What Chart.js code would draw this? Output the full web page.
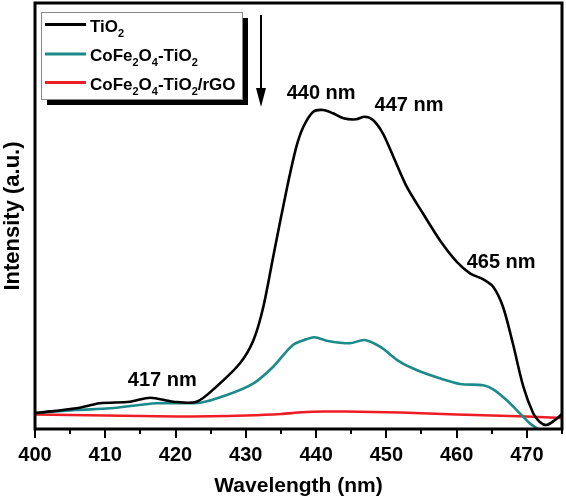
<!DOCTYPE html>
<html>
<head>
<meta charset="utf-8">
<script src="https://cdn.jsdelivr.net/npm/chart.js@4"></script>
<style>
html,body{margin:0;padding:0;background:#fff;}
#wrap{width:566px;height:499px;position:relative;}
</style>
</head>
<body>
<div id="wrap"><canvas id="c" width="566" height="499"></canvas></div>
<script>
// ---- data ----
const tio2Wavelength = [400,400.7,405.9,409.2,413.5,416.4,419.7,423,425.8,429.2,431.1,432.5,433.9,435.8,437.2,438.2,439.6,441,442.4,443.9,445.7,446.9,448.1,449.5,451,452.9,455.2,457.6,460,461.9,463.8,465.2,466.6,468,469.5,470.9,471.8,472.8,474,475];
const tio2Intensity  = [16,16.5,20.7,25.7,27.3,31.3,27.3,27.3,42.3,66,89,122.3,172.3,239,282.3,302.3,317.3,319,315.7,310.7,309.7,312.3,309,295.7,272.3,242.3,215.7,189,167.3,155.7,149.7,142.3,122.3,85.7,42.3,15.7,7.3,4,9,15];

const cfoTio2Wavelength = [400,405.9,410.7,417.3,423.5,427.3,431.1,433.9,436.7,438.6,439.8,441.5,444.8,446.9,449.1,451.9,454.3,457.6,460.5,463.8,465.2,467.1,469,470.4,471.8,472.6];
const cfoTio2Intensity  = [16,19,20.7,25.7,26.3,34,45.7,62.3,84,89.7,91.7,88.3,85.7,89,82.3,67.3,59,50.7,45,43.7,39.7,29,15.7,5.7,-1,-5];

const cfoTio2RgoWavelength = [400,405,410,415,420,425,430,435,438,441,444,448,452,456,460,465,470,475];
const cfoTio2RgoIntensity  = [14.5,14,13.5,13,12.5,12.7,13.5,15,16.7,17.5,17.5,17,16.5,15.5,14.5,13.5,12.5,11];

const xTickValues = [400,410,420,430,440,450,460,470];
const peakLabels = [
  {text:'440 nm', wl:441, val:319},
  {text:'447 nm', wl:448.1, val:312},
  {text:'465 nm', wl:465.2, val:150},
  {text:'417 nm', wl:416.4, val:31}
];
const seriesNames = [
  [['TiO',0],['2',1]],
  [['CoFe',0],['2',1],['O',0],['4',1],['-TiO',0],['2',1]],
  [['CoFe',0],['2',1],['O',0],['4',1],['-TiO',0],['2',1],['/rGO',0]]
];
const seriesColors = ['#000000','#1a8a8a','#ee1c24'];

const toPts = (xs, ys) => xs.map((x,i)=>({x:x, y:ys[i]}));

const FONT = '"Liberation Sans", Arial, sans-serif';

const decor = {
  id:'decor',
  afterDraw(chart){
    const ctx = chart.ctx, a = chart.chartArea;
    const xs = chart.scales.x, ys = chart.scales.y;
    ctx.save();
    // frame
    ctx.strokeStyle = '#000';
    ctx.lineWidth = 3;
    ctx.strokeRect(a.left, a.top, a.right - a.left, a.bottom - a.top);
    // ticks on x (outside)
    ctx.lineWidth = 2;
    for (let v = 400; v <= 475; v += 5) {
      const px = Math.round(xs.getPixelForValue(v));
      const len = (v % 10 === 0) ? 9 : 5;
      ctx.beginPath(); ctx.moveTo(px, a.bottom); ctx.lineTo(px, a.bottom + len); ctx.stroke();
    }
    // legend box with shadow
    const lx = 41, ly = 12, lw = 201, lh = 87;
    ctx.fillStyle = '#000';
    ctx.fillRect(lx + 6, ly + 6, lw, lh);
    ctx.fillStyle = '#fff';
    ctx.fillRect(lx, ly, lw, lh);
    ctx.strokeStyle = '#888';
    ctx.lineWidth = 1;
    ctx.strokeRect(lx + 0.5, ly + 0.5, lw, lh);
    const rows = [24.5, 54, 82.5];
    rows.forEach((ry, i) => {
      ctx.strokeStyle = seriesColors[i];
      ctx.lineWidth = 3;
      ctx.beginPath(); ctx.moveTo(45, ry); ctx.lineTo(86, ry); ctx.stroke();
      let tx = 90;
      ctx.fillStyle = '#000';
      ctx.textBaseline = 'alphabetic';
      ctx.textAlign = 'left';
      seriesNames[i].forEach(([t, sub]) => {
        if (sub) {
          ctx.font = 'bold 11px ' + FONT;
          ctx.fillText(t, tx, ry + 12);
        } else {
          ctx.font = 'bold 17px ' + FONT;
          ctx.fillText(t, tx, ry + 7);
        }
        tx += ctx.measureText(t).width;
      });
    });
    // arrow
    ctx.strokeStyle = '#000';
    ctx.fillStyle = '#000';
    ctx.lineWidth = 2;
    ctx.beginPath(); ctx.moveTo(261, 15); ctx.lineTo(261, 92); ctx.stroke();
    ctx.beginPath(); ctx.moveTo(256, 88); ctx.lineTo(266, 88); ctx.lineTo(261, 107); ctx.closePath(); ctx.fill();
    // peak labels
    ctx.font = 'bold 20px ' + FONT;
    ctx.textBaseline = 'middle';
    ctx.textAlign = 'center';
    const offs = [[-2,-17],[36,-12],[8,-17],[12,-18]];
    peakLabels.forEach((p, i) => {
      const px = xs.getPixelForValue(p.wl) + offs[i][0];
      const py = ys.getPixelForValue(p.val) + offs[i][1];
      ctx.fillText(p.text, px, py);
    });
    ctx.restore();
  }
};

new Chart(document.getElementById('c'), {
  type: 'line',
  data: {
    datasets: [
      {label:'TiO2', data: toPts(tio2Wavelength, tio2Intensity), borderColor: seriesColors[0], borderWidth: 2.6, pointRadius: 0, tension: 0.3, fill:false},
      {label:'CoFe2O4-TiO2', data: toPts(cfoTio2Wavelength, cfoTio2Intensity), borderColor: seriesColors[1], borderWidth: 2.6, pointRadius: 0, tension: 0.3, fill:false},
      {label:'CoFe2O4-TiO2/rGO', data: toPts(cfoTio2RgoWavelength, cfoTio2RgoIntensity), borderColor: seriesColors[2], borderWidth: 2.6, pointRadius: 0, tension: 0.3, fill:false}
    ]
  },
  options: {
    responsive: false,
    animation: false,
    devicePixelRatio: 1,
    layout: {padding: {top: 3, right: 4, left: 0, bottom: 0}},
    plugins: {legend: {display: false}, tooltip: {enabled: false}},
    scales: {
      x: {
        type: 'linear', min: 400, max: 475,
        grid: {display: false, drawTicks: false},
        border: {display: false},
        afterBuildTicks: (s) => { s.ticks = xTickValues.map(v => ({value: v})); },
        ticks: {color:'#000', font: {family: FONT, size: 20, weight: 'bold'}, padding: 14, maxRotation: 0, autoSkip: false,
          callback: (v) => String(v)},
        title: {display: true, text: 'Wavelength (nm)', color:'#000', font: {family: FONT, size: 21, weight: 'bold'}, padding: {top: 8, bottom: 0}},
        afterFit: (s) => { s.height = 70; }
      },
      y: {
        min: 0, max: 426,
        grid: {display: false, drawTicks: false},
        border: {display: false},
        ticks: {display: false},
        title: {display: true, text: 'Intensity (a.u.)', color:'#000', font: {family: FONT, size: 22, weight: 'bold'}, padding: {top: 0, bottom: 0}},
        afterFit: (s) => { s.width = 35; }
      }
    }
  },
  plugins: [decor]
});
</script>
</body>
</html>
